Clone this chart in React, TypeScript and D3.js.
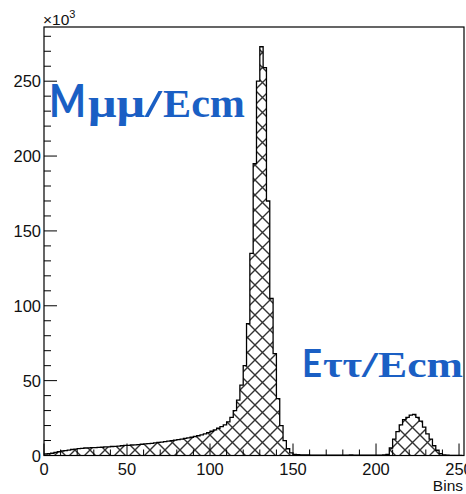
import React from "react";
import * as d3 from "d3";

// ---- data (counts in units of 10^3), bins of width 2 starting at 0 ----
const BIN_WIDTH = 2;
const tailValues = [
  1.0, 1.2, 1.5, 2.0, 2.5, 3.0, 3.3, 3.6, 4.0, 4.3,
  4.6, 4.8, 5.0, 5.1, 5.2, 5.3, 5.4, 5.5, 5.7, 5.8,
  6.0, 6.1, 6.3, 6.5, 6.7, 6.8, 7.0, 7.1, 7.3, 7.5,
  7.7, 7.9, 8.1, 8.4, 8.7, 9.0, 9.3, 9.6, 10.0, 10.3,
  10.6, 11.0, 11.4, 11.8, 12.2, 12.7, 13.2, 13.8, 14.5, 15.3,
];
const mumuPeakValues = [
  16.2, 17.1, 18.2, 19.3, 20.5, 22.5, 25.5, 30, 37, 47,
  60, 88, 135, 195, 250, 273, 259, 170, 105, 68,
  38, 20, 10, 4.5, 1.8, 0.8,
];
const gapValues = [
  0.5, 0.4, 0.4, 0.4, 0.3, 0.3, 0.3, 0.3, 0.3, 0.3,
  0.3, 0.3, 0.3, 0.3, 0.3, 0.3, 0.4, 0.3, 0.3, 0.3,
  0.3, 0.3, 0.3, 0.3, 0.3, 0.3, 0.4,
];
const tautauPeakValues = [
  0.8, 5, 11, 16, 20.5, 24, 25.5, 27, 27.5, 25.5,
  23, 19, 14.5, 11, 6.5, 3.5, 1.3, 0.4,
];
const endValues = [0.2, 0.1, 0.1, 0.05, 0];
const values = [...tailValues, ...mumuPeakValues, ...gapValues, ...tautauPeakValues, ...endValues];

const xTicksMajor = [0, 50, 100, 150, 200, 250];
const yTicksMajor = [0, 50, 100, 150, 200, 250];
const xLabel = "Bins";
const yExponent = "3";

const W = 466;
const H = 494;
const L = 44, R = 464, T = 27, B = 455.5;

export default function App() {
  const x = d3.scaleLinear().domain([0, 253]).range([L, R]);
  const y = d3.scaleLinear().domain([0, 286.2]).range([B, T]);

  // step path
  let d = `M${x(0)},${y(0)}`;
  values.forEach((v, i) => {
    const x0 = x(i * BIN_WIDTH);
    const x1 = x((i + 1) * BIN_WIDTH);
    d += `L${x0},${y(v)}L${x1},${y(v)}`;
  });
  d += `L${x(values.length * BIN_WIDTH)},${y(0)}Z`;

  let outline = "";
  values.forEach((v, i) => {
    const x0 = x(i * BIN_WIDTH);
    const x1 = x((i + 1) * BIN_WIDTH);
    outline += `${i === 0 ? "M" : "L"}${x0},${y(v)}L${x1},${y(v)}`;
  });

  const xMinor = d3.range(0, 254, 10).filter((t) => t % 50 !== 0);
  const yMinor = d3.range(0, 287, 10).filter((t) => t % 50 !== 0);

  const tickFont = "'Liberation Sans', Arial, sans-serif";
  const sansBold = "Lato, 'Open Sans', sans-serif";
  const serifBold = "'Liberation Serif', 'DejaVu Serif', serif";
  const blue = "#1a5fc4";

  return (
    <svg width={W} height={H} style={{ position: "absolute", left: 0, top: 0, background: "#fff" }}>
      <defs>
        <pattern id="hatch" patternUnits="userSpaceOnUse" width={15} height={15}>
          <path d="M0,0L15,15M0,15L15,0M-3,3L3,-3M12,18L18,12M-3,12L3,18M12,-3L18,3" stroke="#333" strokeWidth={1.4} fill="none" />
        </pattern>
        <clipPath id="frame">
          <rect x={L} y={T} width={R - L} height={B - T} />
        </clipPath>
      </defs>
      <rect x={0} y={0} width={W} height={H} fill="#fff" />

      <g clipPath="url(#frame)">
        <path d={d} fill="url(#hatch)" stroke="none" />
        <path d={outline} fill="none" stroke="#000" strokeWidth={1.3} />
      </g>

      {/* frame */}
      <rect x={L} y={T} width={R - L} height={B - T} fill="none" stroke="#000" strokeWidth={1.2} />

      {/* x ticks */}
      {xTicksMajor.map((t) => (
        <line key={"xM" + t} x1={x(t)} x2={x(t)} y1={B} y2={B - 12} stroke="#000" strokeWidth={1} />
      ))}
      {xMinor.map((t) => (
        <line key={"xm" + t} x1={x(t)} x2={x(t)} y1={B} y2={B - 6} stroke="#000" strokeWidth={1} />
      ))}
      {xTicksMajor.map((t) => (
        <text key={"xl" + t} x={x(t)} y={475} textAnchor="middle" fontFamily={tickFont} fontSize={16.5} fill="#111">
          {t}
        </text>
      ))}
      <text x={463} y={491} textAnchor="end" fontFamily={tickFont} fontSize={15.5} fill="#111">
        {xLabel}
      </text>

      {/* y ticks */}
      {yTicksMajor.map((t) => (
        <line key={"yM" + t} x1={L} x2={L + 13} y1={y(t)} y2={y(t)} stroke="#000" strokeWidth={1} />
      ))}
      {yMinor.map((t) => (
        <line key={"ym" + t} x1={L} x2={L + 7} y1={y(t)} y2={y(t)} stroke="#000" strokeWidth={1} />
      ))}
      {yTicksMajor.map((t) => (
        <text key={"yl" + t} x={41} y={y(t) + 6} textAnchor="end" fontFamily={tickFont} fontSize={16.5} fill="#111">
          {t}
        </text>
      ))}
      <text x={43} y={25} fontFamily={tickFont} fontSize={15.5} fill="#111">
        ×10
        <tspan dy={-7} fontSize={11}>{yExponent}</tspan>
      </text>

      {/* labels */}
      <g fill={blue} fontWeight="bold">
        <text x={49} y={117} fontFamily={sansBold} fontSize={46} textLength={37} lengthAdjust="spacingAndGlyphs">M</text>
        <text x={88} y={117} fontFamily={serifBold} fontSize={40} textLength={57} lengthAdjust="spacingAndGlyphs">μμ</text>
        <text x={145} y={117} fontFamily={serifBold} fontSize={40} textLength={17} lengthAdjust="spacingAndGlyphs">/</text>
        <text x={163} y={117} fontFamily={serifBold} fontSize={40} textLength={82} lengthAdjust="spacingAndGlyphs">Ecm</text>

        <text x={302} y={377} fontFamily={sansBold} fontSize={38} textLength={20} lengthAdjust="spacingAndGlyphs">E</text>
        <text x={323} y={377} fontFamily={serifBold} fontSize={36} textLength={39} lengthAdjust="spacingAndGlyphs">ττ</text>
        <text x={362} y={377} fontFamily={serifBold} fontSize={36} textLength={16} lengthAdjust="spacingAndGlyphs">/</text>
        <text x={378} y={377} fontFamily={serifBold} fontSize={35} textLength={85} lengthAdjust="spacingAndGlyphs">Ecm</text>
      </g>
    </svg>
  );
}
